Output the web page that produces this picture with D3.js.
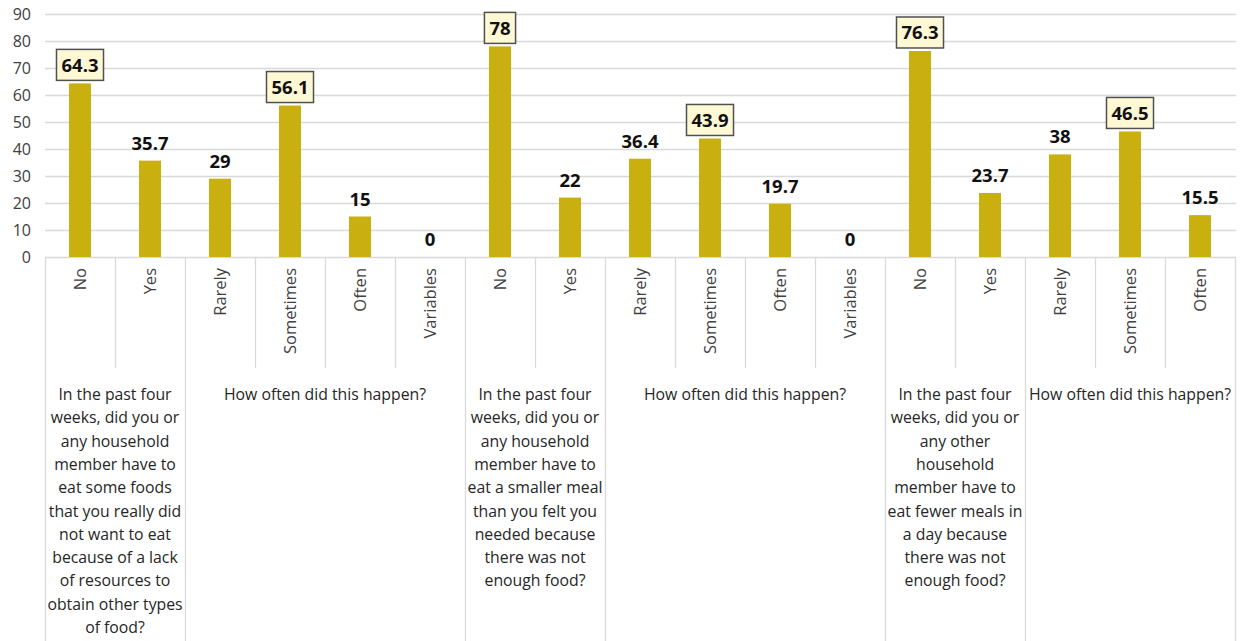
<!DOCTYPE html>
<html>
<head>
<meta charset="utf-8">
<script src="https://cdn.jsdelivr.net/npm/d3@7"></script>
<style>
  html, body { margin: 0; padding: 0; background: #fff; }
  svg { display: block; }
</style>
</head>
<body>
<svg id="chart" width="1242" height="641"></svg>
<script>
// ---- data ----
const categories = ["No","Yes","Rarely","Sometimes","Often","Variables",
                    "No","Yes","Rarely","Sometimes","Often","Variables",
                    "No","Yes","Rarely","Sometimes","Often"];
const values = [64.3, 35.7, 29, 56.1, 15, 0,
                78, 22, 36.4, 43.9, 19.7, 0,
                76.3, 23.7, 38, 46.5, 15.5];
const highlighted = [0, 3, 6, 9, 12, 15];
const yTicks = [0,10,20,30,40,50,60,70,80,90];
const groupStarts = [0, 2, 6, 8, 12, 14];
const groupCounts = [2, 4, 2, 4, 2, 3];
const groupLabels = [
  ["In the past four","weeks, did you or","any household","member have to","eat some foods","that you really did","not want to eat","because of a lack","of resources to","obtain other types","of food?"],
  ["How often did this happen?"],
  ["In the past four","weeks, did you or","any household","member have to","eat a smaller meal","than you felt you","needed because","there was not","enough food?"],
  ["How often did this happen?"],
  ["In the past four","weeks, did you or","any other","household","member have to","eat fewer meals in","a day because","there was not","enough food?"],
  ["How often did this happen?"]
];

// ---- layout ----
const svg = d3.select("#chart");
const mLeft = 45, mRight = 1235, mTop = 14, mBottom = 257;
const catBottom = 368, pageBottom = 641;
const font = "'Open Sans', sans-serif";

const x = d3.scaleBand().domain(d3.range(categories.length)).range([mLeft, mRight]).padding(0);
const y = d3.scaleLinear().domain([0, 90]).range([mBottom, mTop]);

// gridlines + y axis
const yAxis = svg.append("g")
  .attr("transform", `translate(${mLeft},0)`)
  .call(d3.axisLeft(y).tickValues(yTicks).tickSize(-(mRight - mLeft + 1)).tickPadding(14));
yAxis.select(".domain").remove();
yAxis.selectAll(".tick line").attr("stroke", "#d9d9d9").attr("stroke-width", 1.3);
yAxis.selectAll(".tick text")
  .attr("font-family", font).attr("font-size", "16px").attr("fill", "#404040");

// category separators
const bw = x.bandwidth();
const groupBounds = new Set();
groupStarts.forEach((s, i) => { groupBounds.add(s); groupBounds.add(s + groupCounts[i]); });
const sep = svg.append("g");
for (let i = 0; i <= categories.length; i++) {
  const xx = i < categories.length ? x(i) : x(categories.length - 1) + bw;
  sep.append("line")
    .attr("x1", Math.round(xx) + 0.5).attr("x2", Math.round(xx) + 0.5)
    .attr("y1", mBottom).attr("y2", groupBounds.has(i) ? pageBottom : catBottom)
    .attr("stroke", "#d9d9d9").attr("stroke-width", 1.3);
}

// bars
const barW = bw * 0.315;
svg.append("g").selectAll("rect").data(values).join("rect")
  .attr("x", (d, i) => x(i) + (bw - barW) / 2)
  .attr("y", d => y(d))
  .attr("width", barW)
  .attr("height", d => y(0) - y(d))
  .attr("fill", "#C9B010");

// data labels
const lbl = svg.append("g");
values.forEach((v, i) => {
  const cx = x(i) + bw / 2;
  const barTop = y(v);
  const isBox = highlighted.includes(i);
  if (isBox) {
    const g = lbl.append("g");
    const t = g.append("text")
      .attr("x", cx).attr("y", barTop - 3 - 15.5 + 7)
      .attr("text-anchor", "middle")
      .attr("font-family", font).attr("font-weight", "bold").attr("font-size", "18.5px")
      .attr("fill", "#111").text(v);
    const w = t.node().getComputedTextLength();
    g.insert("rect", "text")
      .attr("x", cx - w / 2 - 5).attr("y", barTop - 3 - 31)
      .attr("width", w + 10).attr("height", 31)
      .attr("fill", "#FFF8D4").attr("stroke", "#505050").attr("stroke-width", 1.5);
  } else {
    lbl.append("text")
      .attr("x", cx).attr("y", barTop - 11)
      .attr("text-anchor", "middle")
      .attr("font-family", font).attr("font-weight", "bold").attr("font-size", "18.5px")
      .attr("fill", "#111").text(v);
  }
});

// category labels (rotated)
svg.append("g").selectAll("text").data(categories).join("text")
  .attr("transform", (d, i) => `translate(${x(i) + bw / 2 + 5.5},268) rotate(-90)`)
  .attr("text-anchor", "end")
  .attr("font-family", font).attr("font-size", "16.5px").attr("fill", "#404040")
  .text(d => d);

// group labels
const gl = svg.append("g");
groupLabels.forEach((lines, gi) => {
  const x0 = x(groupStarts[gi]);
  const x1 = x(groupStarts[gi] + groupCounts[gi] - 1) + bw;
  const cx = (x0 + x1) / 2;
  const t = gl.append("text")
    .attr("text-anchor", "middle")
    .attr("font-family", font).attr("font-size", "15.8px").attr("fill", "#262626");
  lines.forEach((ln, li) => {
    t.append("tspan").attr("x", cx).attr("y", 400 + li * 23.3).text(ln);
  });
});
</script>
</body>
</html>
